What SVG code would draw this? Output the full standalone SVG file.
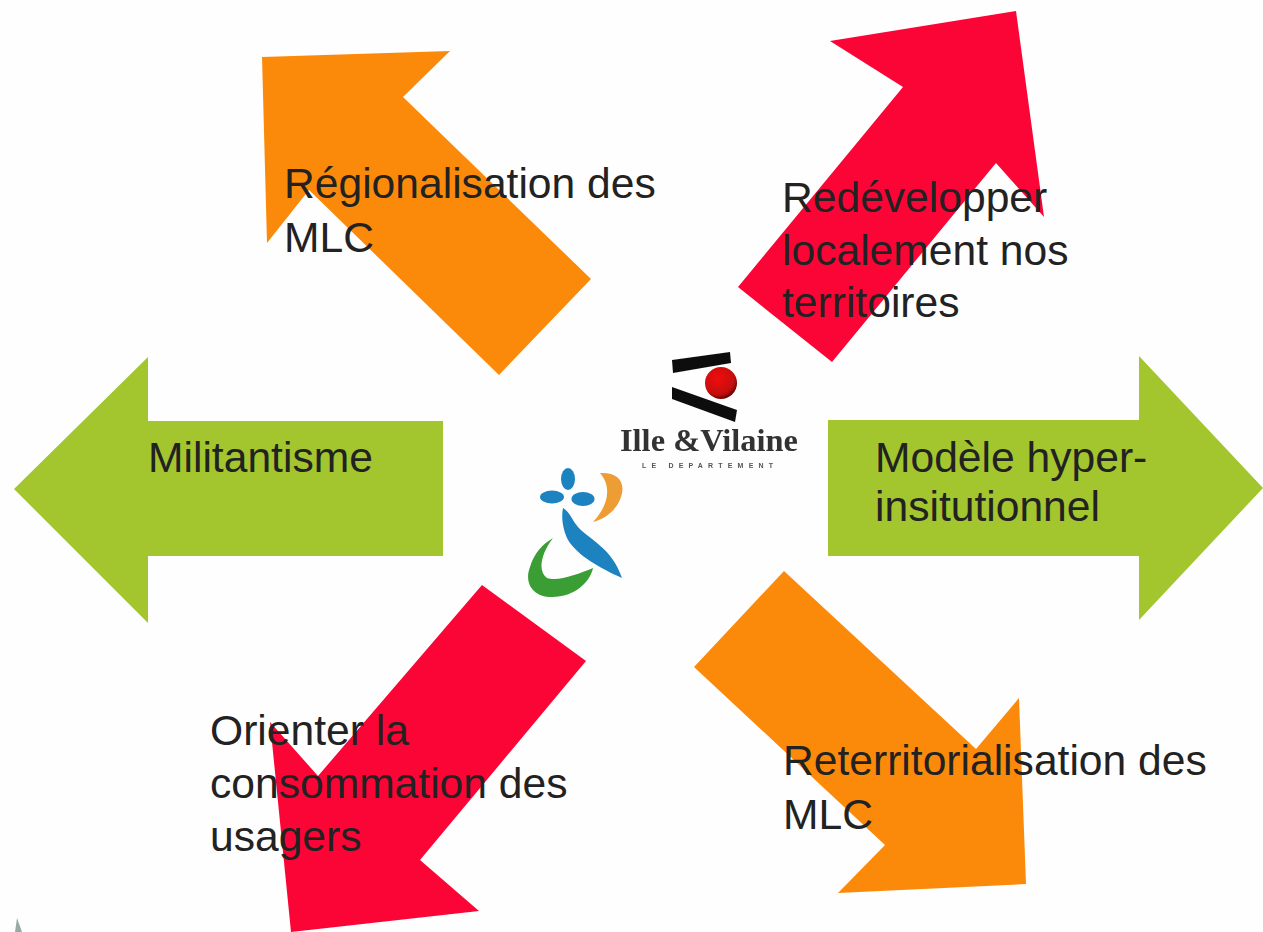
<svg xmlns="http://www.w3.org/2000/svg" width="1263" height="932" viewBox="0 0 1263 932">
<defs>
<style>
.t{font-family:"Liberation Sans",Arial,sans-serif;font-size:42.6px;fill:#222}
.o{fill:#fc8a0a}.r{fill:#fb0537}.g{fill:#a3c52e}
.s{font-family:"Liberation Serif",serif;fill:#333;font-weight:bold}
</style>
<radialGradient id="ball" cx="0.4" cy="0.35" r="0.7"><stop offset="0" stop-color="#f01010"/><stop offset="0.7" stop-color="#c80808"/><stop offset="1" stop-color="#5a0505"/></radialGradient>
<filter id="soft" x="-5%" y="-5%" width="110%" height="110%"><feGaussianBlur stdDeviation="0.7"/></filter>
</defs>
<rect width="1263" height="932" fill="#fefefe"/>
<g id="connectors"></g>
<g id="arrow-regionalisation"><polygon class="o" points="262,57 450,51 403,97 591,279 499,375 309,190 267,243"/><text class="t"><tspan x="284" y="198">Régionalisation des</tspan><tspan x="284" y="252">MLC</tspan></text></g>
<g id="arrow-redevelopper"><polygon class="r" points="1016,11 1044,217 996,163 832,362 738,287 903,87 830,41"/><text class="t"><tspan x="782" y="212">Redévelopper</tspan><tspan x="782" y="265">localement nos</tspan><tspan x="782" y="317">territoires</tspan></text></g>
<g id="arrow-militantisme"><polygon class="g" points="14,489 148,357 148,421 443,421 443,556 148,556 148,623"/><text class="t" x="148" y="472">Militantisme</text></g>
<g id="arrow-modele"><polygon class="g" points="1263,488 1139,356 1139,420 828,420 828,556 1139,556 1139,620"/><text class="t"><tspan x="875" y="472">Modèle hyper-</tspan><tspan x="875" y="521">insitutionnel</tspan></text></g>
<g id="arrow-orienter"><polygon class="r" points="291,932 270,722 318,776 482,585 586,661 420,860 479,911"/><text class="t"><tspan x="210" y="745">Orienter la</tspan><tspan x="210" y="798">consommation des</tspan><tspan x="210" y="851">usagers</tspan></text></g>
<g id="arrow-reterritorialisation"><polygon class="o" points="1026,884 838,893 885,845 694,667 784,571 976,749 1019,698"/><text class="t"><tspan x="783" y="775">Reterritorialisation des</tspan><tspan x="783" y="829">MLC</tspan></text></g>
<g id="logo-ille-vilaine" filter="url(#soft)">
<polygon fill="#111" points="672,360 730,352 731,363 673,373"/>
<polygon fill="#111" points="672,387 737,410 735,422 672,399"/>
<circle cx="721" cy="383" r="16" fill="url(#ball)"/>
<text class="s" x="620" y="451" font-size="31" textLength="178" lengthAdjust="spacingAndGlyphs">Ille &amp;Vilaine</text>
<text x="642" y="468" font-family="Liberation Sans,sans-serif" font-size="7" font-weight="bold" fill="#555" textLength="131">LE DEPARTEMENT</text>
</g>
<g id="logo-flower" filter="url(#soft)">
<ellipse cx="568" cy="479" rx="7" ry="11" fill="#1b82c0"/>
<ellipse cx="552" cy="497" rx="12" ry="6.5" fill="#1b82c0"/>
<ellipse cx="583" cy="499" rx="11.5" ry="7" fill="#1b82c0"/>
<path d="M600,473 C618,472 626,482 621,497 C617,510 605,519 593,522 C607,507 613,488 600,473Z" fill="#ee9d35"/>
<path d="M563,508 C570,512 572,520 578,527 C590,540 612,548 622,578 C600,568 578,556 568,540 C563,530 561,518 563,508Z" fill="#1b82c0"/>
<path d="M553,538 C540,555 538,572 547,578 C558,582 578,574 593,568 C590,582 575,597 552,597 C532,597 524,582 530,567 C534,553 543,544 553,538Z" fill="#3a9e35"/>
</g>
<path id="corner-mark" d="M15,932 L17,918 L22,932Z" fill="#6b8a80" opacity="0.7" filter="url(#soft)"/>
</svg>
